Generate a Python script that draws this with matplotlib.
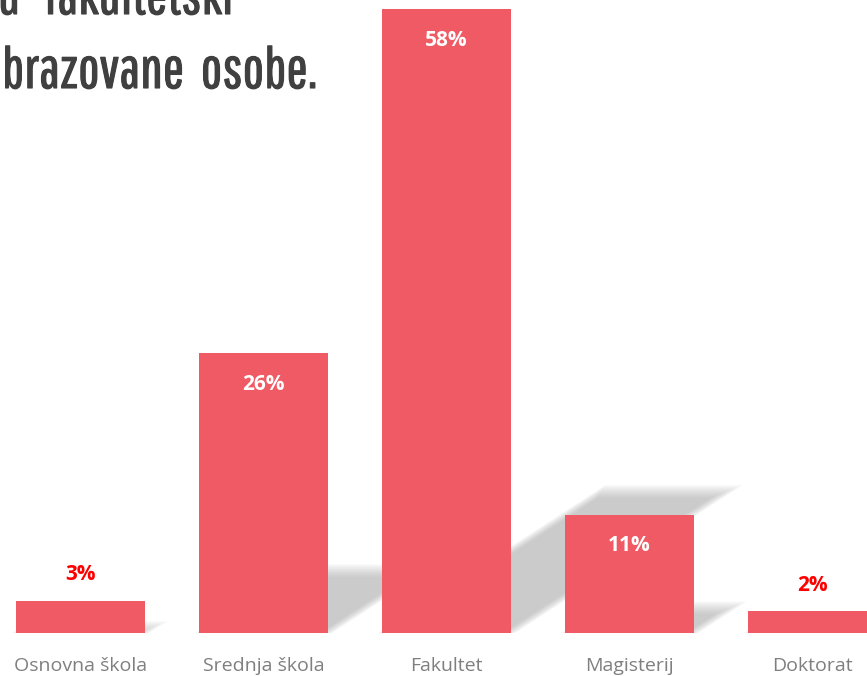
import matplotlib.pyplot as plt
import matplotlib.patheffects as pe
from matplotlib.patches import Polygon

# podaci
kategorije = ['Osnovna škola', 'Srednja škola', 'Fakultet', 'Magisterij', 'Doktorat']
postoci = [3, 26, 58, 11, 2]
oznake = ['3%', '26%', '58%', '11%', '2%']

boja_stupca = '#F05A64'
sirina = 0.705

# velicina piksela u jedinicama podataka
px_x = 1 / 183
px_y = 1 / 10.76

fig = plt.figure(figsize=(8.67, 6.76), dpi=100)
ax = fig.add_axes([0, 43 / 676, 1, 1 - 43 / 676])

x = list(range(len(kategorije)))
ax.bar(x, postoci, width=sirina, color=boja_stupca, zorder=3)

# meke sjene iza stupaca (perspektiva prema gore-desno)
for xi, h in zip(x, postoci):
    lijevo = xi - sirina / 2
    desno = xi + sirina / 2
    dx = 0.0208 * h
    dy = 0.23 * h
    for d in [-4, -2, 0, 2, 4, 6, 8]:
        vrh = dy - d * px_y
        if vrh <= 0:
            continue
        pomak = dx * vrh / dy
        poly = Polygon([(lijevo + d * px_x, 0), (desno - d * px_x, 0),
                        (desno + pomak - d * px_x, vrh), (lijevo + pomak + d * px_x, vrh)],
                       closed=True, facecolor='#a0a0a0', edgecolor='none',
                       alpha=0.1, zorder=1)
        ax.add_patch(poly)

# oznake vrijednosti
for xi, h, t in zip(x, postoci, oznake):
    if h > 5:
        ax.text(xi, h - 2.9, t, ha='center', va='center', color='white',
                fontsize=15, fontweight='bold', family='Open Sans', zorder=4)
    else:
        ax.text(xi, h + 2.4, t, ha='center', va='center', color='#FF0000',
                fontsize=15, fontweight='bold', family='Open Sans', zorder=4)

ax.set_xlim(-80.5 / 183, (867 - 80.5) / 183)
ax.set_ylim(0, 633 / 10.76)
ax.set_xticks(x)
ax.set_xticklabels(kategorije, fontsize=14, color='#7F7F7F', family='Open Sans')
ax.tick_params(axis='x', length=0, pad=17)
ax.set_yticks([])
for s in ax.spines.values():
    s.set_visible(False)

# naslov (djelomicno odrezan)
naslov_font = ['Pathway Gothic One', 'DejaVu Sans']
deblje = [pe.withStroke(linewidth=0.8, foreground='#404040')]
fig.text(-2 / 867, 1 - 14 / 676, 'u   fakultetski', fontsize=41, color='#404040',
         family=naslov_font, va='baseline', ha='left', path_effects=deblje)
fig.text(2 / 867, 1 - 88 / 676, 'brazovane  osobe.', fontsize=41, color='#404040',
         family=naslov_font, va='baseline', ha='left', path_effects=deblje)

fig.savefig('out.png', dpi=100)
